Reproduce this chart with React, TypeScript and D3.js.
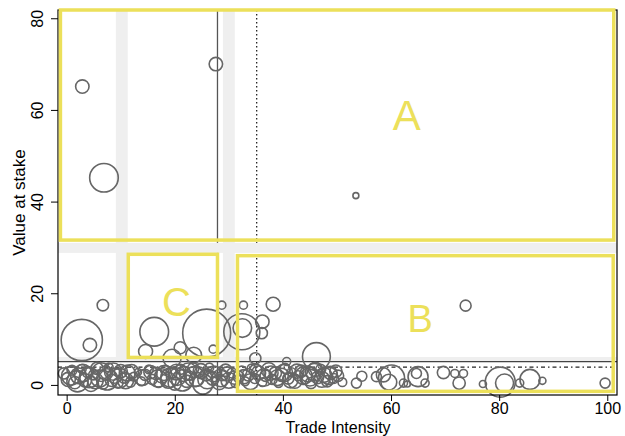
import React, { useEffect, useRef } from 'react';
import * as d3 from 'd3';

// [trade intensity, value at stake, weight]
const upperPoints: [number, number, number][] = [
  [2.9, 65.1, 7.2], [6.9, 45.2, 32.7], [27.6, 70.0, 7.2], [53.5, 41.3, 1.4],
  [73.8, 17.3, 4.8], [6.7, 17.4, 5.2], [2.8, 9.8, 68], [4.3, 8.7, 7.2],
  [16.2, 11.6, 33], [14.6, 7.3, 7.8], [25.9, 11.3, 92], [21.0, 8.1, 5.8],
  [27.1, 7.8, 2.6], [28.7, 17.4, 2.6], [32.7, 17.4, 2.6], [38.2, 17.6, 7.8],
  [32.4, 11.6, 52], [32.5, 12.4, 13.8], [36.2, 13.8, 7.2], [46.2, 6.2, 31],
  [40.7, 5.1, 2.6], [19.5, 5.8, 13], [23.5, 6.5, 10], [34.9, 5.8, 5],
  [36.1, 11.3, 5],
];

const lowPoints: [number, number, number][] = [
  [-0.5, 2.5, 5], [0.3, 1.2, 8], [1.0, 3.2, 4], [1.5, 0.5, 6], [2.2, 2.0, 10],
  [2.8, 3.5, 3], [3.4, 1.0, 7], [3.9, 2.8, 5], [4.5, 0.2, 9], [5.0, 2.2, 4],
  [5.6, 3.6, 6], [6.1, 1.4, 12], [6.7, 0.3, 5], [7.2, 2.6, 8], [7.8, 3.8, 3],
  [8.3, 1.0, 6], [8.9, 2.0, 9], [9.5, 0.4, 4], [10.0, 3.0, 7], [10.6, 1.6, 5],
  [11.2, 2.6, 10], [11.8, 0.6, 4], [12.4, 1.8, 3], [13.2, 2.8, 2], [13.8, 0.8, 3],
  [14.5, 2.2, 5], [15.2, 3.4, 3], [15.8, 1.2, 4], [16.5, 2.5, 6], [17.0, 0.4, 3],
  [17.6, 2.0, 8], [18.3, 3.2, 4], [18.8, 1.0, 10], [19.4, 2.6, 5], [20.0, 0.3, 7],
  [20.5, 1.8, 12], [21.1, 3.4, 4], [21.6, 2.4, 9], [22.2, 0.8, 6], [22.8, 2.0, 3],
  [23.4, 3.6, 5], [24.0, 1.2, 8], [24.6, 2.8, 4], [25.2, 0.2, 16], [25.8, 2.2, 6],
  [26.4, 3.8, 3], [27.0, 1.4, 7], [27.6, 2.8, 5], [28.2, 0.6, 9], [28.8, 2.0, 4],
  [29.4, 3.2, 6], [30.0, 1.0, 10], [30.6, 2.6, 4], [31.2, 0.4, 3], [31.8, 1.8, 5],
  [32.4, 3.0, 4], [33.0, 0.8, 3], [33.6, 2.2, 6], [34.2, 3.6, 3], [34.8, 1.4, 4],
  [35.5, 2.6, 8], [36.2, 0.6, 3], [36.8, 2.0, 5], [37.4, 3.2, 9], [38.0, 1.2, 4],
  [38.6, 2.6, 6], [39.2, 0.4, 3], [39.8, 2.2, 7], [40.4, 3.6, 4], [41.0, 1.4, 5],
  [41.6, 2.8, 3], [42.2, 0.8, 8], [42.8, 2.0, 4], [43.4, 3.0, 6], [44.0, 1.2, 3],
  [44.6, 2.4, 10], [45.2, 0.4, 5], [45.8, 2.8, 12], [46.4, 1.6, 6], [47.0, 3.4, 4],
  [47.6, 2.2, 9], [48.2, 0.8, 5], [48.8, 2.6, 7], [49.4, 1.4, 4], [50.2, 2.0, 5],
  [51.0, 0.6, 3],
  [0.8, 2.0, 14], [2.0, 0.8, 18], [3.0, 2.6, 12], [4.2, 1.6, 16], [5.3, 0.9, 10],
  [6.4, 2.8, 14], [7.5, 1.2, 18], [8.6, 2.9, 12], [9.8, 1.5, 15], [10.9, 0.9, 10],
  [12.0, 2.9, 8], [14.0, 1.6, 10], [15.5, 2.8, 7], [16.9, 1.4, 12], [18.0, 2.6, 9],
  [19.2, 1.6, 15], [20.3, 2.8, 10], [21.4, 1.0, 18], [22.5, 2.9, 12], [23.6, 1.8, 16],
  [24.8, 3.0, 9], [26.0, 1.2, 14], [27.2, 2.4, 10], [28.5, 1.5, 12], [29.7, 2.4, 8],
  [31.0, 1.6, 7], [32.8, 1.8, 8], [34.0, 0.7, 10], [35.0, 3.2, 6], [36.5, 1.6, 12],
  [37.8, 2.6, 8], [39.0, 1.6, 10], [40.2, 2.6, 12], [41.4, 1.0, 9], [42.6, 3.0, 8],
  [43.8, 2.0, 12], [45.0, 1.8, 14], [46.0, 3.4, 8], [47.2, 1.2, 10], [48.5, 2.0, 12],
  [49.8, 3.0, 6],
  [53.6, 0.4, 4], [54.6, 1.9, 4], [57.3, 1.8, 4], [58.6, 2.2, 8],
  [60.1, 1.5, 27], [59.6, 0.6, 10], [62.3, 0.4, 2.6], [63.0, 0.2, 1.5], [64.7, 2.5, 4],
  [65.0, 1.8, 16], [66.3, 0.4, 2.6], [69.7, 2.7, 6], [71.8, 2.5, 2.6], [73.4, 2.5, 2.6],
  [72.6, 0.4, 6], [77.0, 0.2, 2], [80.2, 0.6, 36], [81.0, 0.4, 13], [83.8, 0.4, 2.6],
  [85.7, 1.2, 16], [88.0, 0.9, 2], [99.6, 0.4, 4],
];

const xTicks = [0, 20, 40, 60, 80, 100];
const yTicks = [0, 20, 40, 60, 80];

// reference lines
const vSolid = 27.9;
const vDotted = 35.15;
const hSolid = 5.1;
const hDotted = 3.9;

// grey gaps between the highlighted zones: [x0, x1, y0, y1]
const bands: [number, number, number, number][] = [
  [9.1, 11.3, 6.1, 81.8],
  [28.9, 31.1, 6.1, 81.8],
  [-1.6, 101.8, 28.8, 31.0],
  [-1.6, 101.8, 5.1, 6.1],
];

// highlighted zones: [label, x0, x1, y0, y1, labelX, labelY, fontSize]
const zones: [string, number, number, number, number, number, number, number][] = [
  ['A', -1.15, 101.2, 31.6, 81.8, 62.9, 55.6, 42],
  ['B', 31.6, 101.1, -1.4, 28.2, 65.4, 11.5, 38],
  ['C', 11.4, 27.9, 6.0, 28.5, 20.3, 15.0, 40],
];

const font = '"Liberation Sans", Arial, Helvetica, sans-serif';
const yellow = '#ece05a';

const App = () => {
  const ref = useRef<SVGSVGElement | null>(null);

  useEffect(() => {
    const svg = d3.select(ref.current);
    svg.selectAll('*').remove();

    const left = 58, right = 617, top = 10, bottom = 395;
    const x = d3.scaleLinear().domain([-1.6, 101.8]).range([left, right]);
    const y = d3.scaleLinear().domain([-2.2, 81.8]).range([bottom, top]);
    const r = d3.scaleSqrt().domain([0, 100]).range([0, 25]);

    svg.append('rect').attr('width', 625).attr('height', 436).attr('fill', '#fff');

    // reference lines
    svg.append('line')
      .attr('x1', x(vSolid)).attr('x2', x(vSolid))
      .attr('y1', top).attr('y2', bottom)
      .attr('stroke', '#555').attr('stroke-width', 1.3);
    svg.append('line')
      .attr('x1', x(vDotted)).attr('x2', x(vDotted))
      .attr('y1', top).attr('y2', bottom)
      .attr('stroke', '#222').attr('stroke-width', 1.3)
      .attr('stroke-dasharray', '1.5,2.5');

    svg.selectAll('.band')
      .data(bands)
      .enter().append('rect')
      .attr('x', d => x(d[0]))
      .attr('width', d => x(d[1]) - x(d[0]))
      .attr('y', d => y(d[3]))
      .attr('height', d => y(d[2]) - y(d[3]))
      .attr('fill', '#efefef');

    svg.append('line')
      .attr('x1', left).attr('x2', right)
      .attr('y1', y(hSolid)).attr('y2', y(hSolid))
      .attr('stroke', '#444').attr('stroke-width', 1.3);
    svg.append('line')
      .attr('x1', left).attr('x2', right)
      .attr('y1', y(hDotted)).attr('y2', y(hDotted))
      .attr('stroke', '#222').attr('stroke-width', 1.3)
      .attr('stroke-dasharray', '4,3,1.5,3');

    // bubbles
    svg.selectAll('.dot')
      .data([...lowPoints, ...upperPoints])
      .enter().append('circle')
      .attr('cx', d => x(d[0]))
      .attr('cy', d => y(d[1]))
      .attr('r', d => r(d[2]))
      .attr('fill', 'none')
      .attr('stroke', '#666')
      .attr('stroke-width', 1.6);

    // frame
    svg.append('rect')
      .attr('x', left).attr('y', top)
      .attr('width', right - left).attr('height', bottom - top)
      .attr('fill', 'none').attr('stroke', '#000').attr('stroke-width', 1.2);

    // axes
    const xAxis = svg.append('g')
      .attr('transform', `translate(0,${bottom})`)
      .call(d3.axisBottom(x).tickValues(xTicks).tickSize(6).tickPadding(2));
    xAxis.select('.domain').remove();
    xAxis.selectAll('text').attr('font-size', 16).attr('font-family', font).attr('fill', '#000');

    const yAxis = svg.append('g')
      .attr('transform', `translate(${left},0)`)
      .call(d3.axisLeft(y).tickValues(yTicks).tickSize(7));
    yAxis.select('.domain').remove();
    yAxis.selectAll('.tick text')
      .attr('x', 0).attr('dy', 0)
      .attr('transform', 'translate(-15,0) rotate(-90)')
      .attr('text-anchor', 'middle')
      .attr('font-size', 16).attr('font-family', font).attr('fill', '#000');

    svg.append('text')
      .attr('x', (left + right) / 2 + 0.5)
      .attr('y', 432.5)
      .attr('text-anchor', 'middle')
      .attr('font-size', 16).attr('font-family', font)
      .text('Trade Intensity');

    svg.append('text')
      .attr('transform', `translate(25,${(top + bottom) / 2}) rotate(-90)`)
      .attr('text-anchor', 'middle')
      .attr('font-size', 17).attr('font-family', font)
      .text('Value at stake');

    // highlighted zones
    svg.selectAll('.zone')
      .data(zones)
      .enter().append('rect')
      .attr('x', d => x(d[1]))
      .attr('width', d => x(d[2]) - x(d[1]))
      .attr('y', d => y(d[4]))
      .attr('height', d => y(d[3]) - y(d[4]))
      .attr('fill', 'none')
      .attr('stroke', yellow)
      .attr('stroke-width', 3.5);

    svg.selectAll('.zone-label')
      .data(zones)
      .enter().append('text')
      .attr('x', d => x(d[5]))
      .attr('y', d => y(d[6]))
      .attr('text-anchor', 'middle')
      .attr('font-size', d => d[7])
      .attr('font-family', font)
      .attr('fill', yellow)
      .text(d => d[0]);
  }, []);

  return (
    <div style={{ position: 'fixed', left: 0, top: 0 }}>
      <svg ref={ref} width={625} height={436} style={{ display: 'block' }} />
    </div>
  );
};

export default App;
